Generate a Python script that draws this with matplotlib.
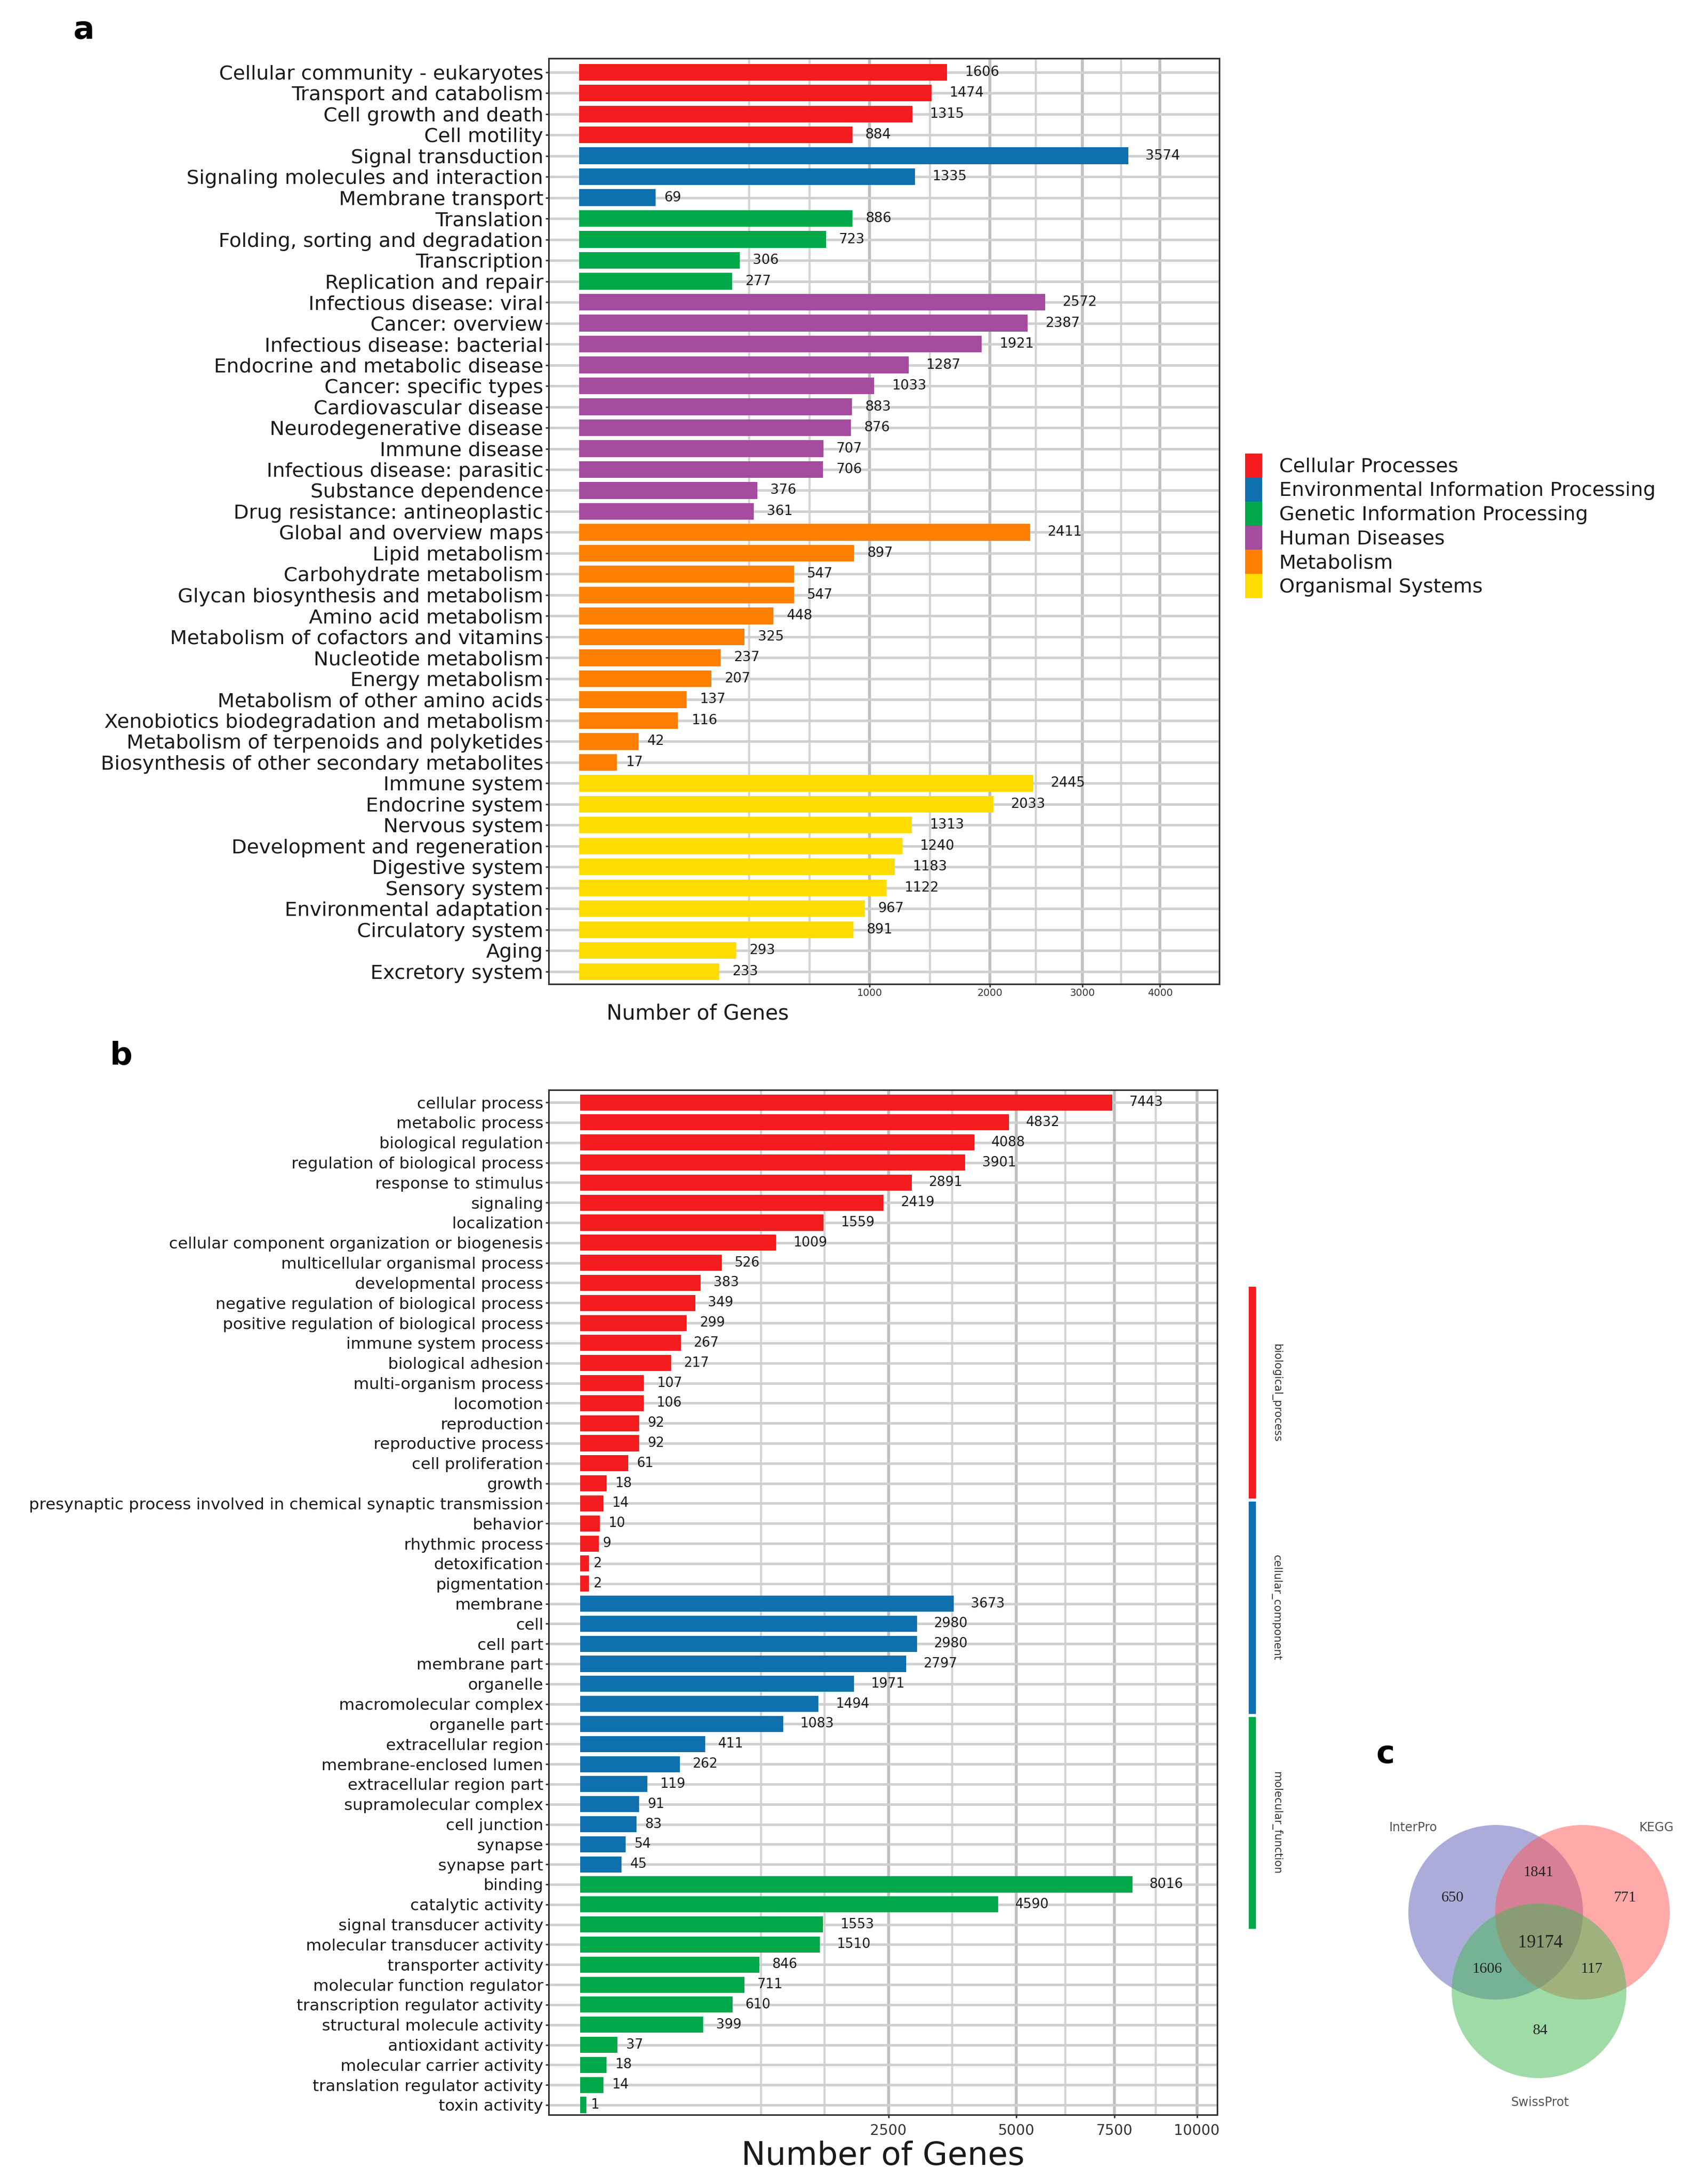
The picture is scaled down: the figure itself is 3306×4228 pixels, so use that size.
import numpy as np
import matplotlib
matplotlib.use("Agg")
import matplotlib.pyplot as plt
from matplotlib.patches import Circle, Patch

plt.rcParams['font.family'] = ['DejaVu Sans']

# ---------------- data: panel a (KEGG classes) ----------------
kegg_groups = ["Cellular Processes", "Environmental Information Processing",
               "Genetic Information Processing", "Human Diseases",
               "Metabolism", "Organismal Systems"]
kegg_colors = ["#F41C1E", "#0E70AE", "#00A84A", "#A54BA0", "#FF7F00", "#FFDC00"]
kegg_sizes = [4, 3, 4, 11, 12, 10]
kegg_terms = [
    "Cellular community - eukaryotes", "Transport and catabolism",
    "Cell growth and death", "Cell motility",
    "Signal transduction", "Signaling molecules and interaction", "Membrane transport",
    "Translation", "Folding, sorting and degradation", "Transcription",
    "Replication and repair",
    "Infectious disease: viral", "Cancer: overview", "Infectious disease: bacterial",
    "Endocrine and metabolic disease", "Cancer: specific types",
    "Cardiovascular disease", "Neurodegenerative disease", "Immune disease",
    "Infectious disease: parasitic", "Substance dependence",
    "Drug resistance: antineoplastic",
    "Global and overview maps", "Lipid metabolism", "Carbohydrate metabolism",
    "Glycan biosynthesis and metabolism", "Amino acid metabolism",
    "Metabolism of cofactors and vitamins", "Nucleotide metabolism",
    "Energy metabolism", "Metabolism of other amino acids",
    "Xenobiotics biodegradation and metabolism",
    "Metabolism of terpenoids and polyketides",
    "Biosynthesis of other secondary metabolites",
    "Immune system", "Endocrine system", "Nervous system",
    "Development and regeneration", "Digestive system", "Sensory system",
    "Environmental adaptation", "Circulatory system", "Aging", "Excretory system"]
kegg_counts = [1606, 1474, 1315, 884,
               3574, 1335, 69,
               886, 723, 306, 277,
               2572, 2387, 1921, 1287, 1033, 883, 876, 707, 706, 376, 361,
               2411, 897, 547, 547, 448, 325, 237, 207, 137, 116, 42, 17,
               2445, 2033, 1313, 1240, 1183, 1122, 967, 891, 293, 233]
kegg_ticks = [1000, 2000, 3000, 4000]

# ---------------- data: panel b (GO terms) ----------------
go_groups = ["biological_process", "cellular_component", "molecular_function"]
go_colors = ["#F41C1E", "#0E70AE", "#00A84A"]
go_sizes = [25, 14, 12]
go_terms = [
    "cellular process", "metabolic process", "biological regulation",
    "regulation of biological process", "response to stimulus", "signaling",
    "localization", "cellular component organization or biogenesis",
    "multicellular organismal process", "developmental process",
    "negative regulation of biological process",
    "positive regulation of biological process", "immune system process",
    "biological adhesion", "multi-organism process", "locomotion",
    "reproduction", "reproductive process", "cell proliferation", "growth",
    "presynaptic process involved in chemical synaptic transmission",
    "behavior", "rhythmic process", "detoxification", "pigmentation",
    "membrane", "cell", "cell part", "membrane part", "organelle",
    "macromolecular complex", "organelle part", "extracellular region",
    "membrane-enclosed lumen", "extracellular region part",
    "supramolecular complex", "cell junction", "synapse", "synapse part",
    "binding", "catalytic activity", "signal transducer activity",
    "molecular transducer activity", "transporter activity",
    "molecular function regulator", "transcription regulator activity",
    "structural molecule activity", "antioxidant activity",
    "molecular carrier activity", "translation regulator activity",
    "toxin activity"]
go_counts = [7443, 4832, 4088, 3901, 2891, 2419, 1559, 1009, 526, 383, 349, 299,
             267, 217, 107, 106, 92, 92, 61, 18, 14, 10, 9, 2, 2,
             3673, 2980, 2980, 2797, 1971, 1494, 1083, 411, 262, 119, 91, 83, 54, 45,
             8016, 4590, 1553, 1510, 846, 711, 610, 399, 37, 18, 14, 1]
go_ticks = [2500, 5000, 7500, 10000]

# ---------------- data: panel c (Venn) ----------------
venn_sets = ["InterPro", "KEGG", "SwissProt"]
venn_set_colors = ["#5B5BB7", "#FF5555", "#41B951"]
venn_only = [650, 771, 84]            # InterPro, KEGG, SwissProt only
venn_pairs = [1841, 1606, 117]        # I&K, I&S, K&S
venn_all = 19174

W, H = 3306, 4228
fig = plt.figure(figsize=(W / 100, H / 100), dpi=100)


def px_axes(l, t, r, b):
    return fig.add_axes([l / W, 1 - b / H, (r - l) / W, (b - t) / H])


def sqrt_fwd(x):
    x = np.asarray(x, dtype=float)
    return np.sign(x) * np.sqrt(np.abs(x))


def sqrt_inv(x):
    x = np.asarray(x, dtype=float)
    return np.sign(x) * x ** 2


def minor_breaks(majors):
    # ggplot-like minor breaks, computed in sqrt space
    s = np.sqrt(majors)
    s = np.concatenate([[s[0] - (s[1] - s[0])], s])
    mids = (s[:-1] + s[1:]) / 2
    return np.concatenate([[s[0]], mids]) ** 2


def bar_panel(ax, terms, counts, colors, majors, xlim_s, pads, lab_fs, val_fs, tick_fs):
    ax.set_xscale('function', functions=(sqrt_fwd, sqrt_inv))
    y = np.arange(len(terms))
    ax.barh(y, counts, height=0.8, color=colors, zorder=2)
    for i, v in enumerate(counts):
        s = str(v)
        ax.annotate(s, (v, i), xytext=(0.5 * len(s) * 0.636 * val_fs, 0),
                    textcoords='offset points', ha='left', va='center',
                    fontsize=val_fs, color='#1a1a1a', zorder=3)
    ax.set_yticks(y)
    ax.set_yticklabels(terms, fontsize=lab_fs, color='#1a1a1a')
    ax.set_xticks(majors)
    ax.set_xticklabels([str(m) for m in majors], fontsize=tick_fs, color='#333333')
    ax.set_xticks(minor_breaks(majors), minor=True)
    ax.set_xlim(sqrt_inv(xlim_s[0]), sqrt_inv(xlim_s[1]))
    ax.set_ylim(len(terms) - 1 + pads[1], -pads[0])
    ax.set_axisbelow(True)
    ax.grid(True, axis='x', which='major', color='#BEBEBE', lw=4)
    ax.grid(True, axis='x', which='minor', color='#D4D4D4', lw=3)
    ax.grid(True, axis='y', which='major', color='#D0D0D0', lw=3.5)
    ax.tick_params(axis='x', which='minor', length=0)
    ax.tick_params(axis='both', which='major', length=4.5, width=2,
                   color='#333333', pad=3)
    for sp in ax.spines.values():
        sp.set_color('#333333')
        sp.set_linewidth(2.2)


# ---------------- panel a ----------------
ax_a = px_axes(1062, 113, 2360, 1905)
a_cols = np.repeat(kegg_colors, kegg_sizes)
bar_panel(ax_a, kegg_terms, kegg_counts, a_cols, kegg_ticks, (-3.32, 69.7),
          (0.66, 0.6), 27.7, 19, 14)
ax_a.tick_params(axis='x', pad=1)
fig.text(1350 / W, 1 - 1963 / H, "Number of Genes", fontsize=29,
         ha='center', va='center', color='#1a1a1a')

handles = [Patch(facecolor=c, edgecolor='none', lw=0) for c in kegg_colors]
fig.legend(handles, kegg_groups, loc='upper left',
           bbox_to_anchor=(2410 / W, 1 - 878 / H), frameon=False,
           fontsize=27.5, handleheight=1.5, handlelength=0.87,
           handletextpad=0.85, labelspacing=0, borderpad=0, borderaxespad=0,
           labelcolor='#1a1a1a')

# ---------------- panel b ----------------
ax_b = px_axes(1062, 2110, 2356, 4094)
b_cols = np.repeat(go_colors, go_sizes)
bar_panel(ax_b, go_terms, go_counts, b_cols, go_ticks, (-5.1, 103.3),
          (0.62, 0.49), 22.5, 18.5, 20)
ax_b.tick_params(axis='x', pad=8)
fig.text(1709 / W, 1 - 4174 / H, "Number of Genes", fontsize=45,
         ha='center', va='center', color='#1a1a1a')

# side strip for GO categories
ax_s = px_axes(2417, 2488, 2431, 3737)
n_g = len(go_groups)
ax_s.barh(np.arange(n_g), [1] * n_g, height=0.985, color=go_colors)
ax_s.set_ylim(n_g - 0.5, -0.5)
ax_s.set_xlim(0, 1)
ax_s.axis('off')
for i, g in enumerate(go_groups):
    ax_s.text(3.8, i, g, rotation=-90, ha='center', va='center',
              fontsize=15, color='#333333', clip_on=False)

# ---------------- panel c: Venn ----------------
ax_c = px_axes(2600, 3300, 3306, 4228)
ax_c.set_xlim(2600, 3306)
ax_c.set_ylim(4228, 3300)
ax_c.axis('off')
centers = [(2895, 3702), (3063, 3702), (2979, 3854)]
for (cx, cy), col in zip(centers, venn_set_colors):
    ax_c.add_patch(Circle((cx, cy), 169, facecolor=col, alpha=0.5, lw=0))
name_pos = [(2735, 3538), (3206, 3538), (2981, 4070)]
for (x, y), name in zip(name_pos, venn_sets):
    ax_c.text(x, y, name, fontsize=17, ha='center', va='center', color='#555555')
only_pos = [(2812, 3674), (3145, 3674), (2981, 3931)]
for (x, y), v in zip(only_pos, venn_only):
    ax_c.text(x, y, str(v), fontsize=21, ha='center', va='center',
              family='Liberation Serif', color='#222222')
pair_pos = [(2978, 3625), (2878, 3812), (3081, 3812)]
for (x, y), v in zip(pair_pos, venn_pairs):
    ax_c.text(x, y, str(v), fontsize=21, ha='center', va='center',
              family='Liberation Serif', color='#222222')
ax_c.text(2981, 3761, str(venn_all), fontsize=25, ha='center', va='center',
          family='Liberation Serif', color='#222222')

# ---------------- panel letters ----------------
for (x, y), lab in zip([(162, 59), (235, 2044), (2681, 3397)], ["a", "b", "c"]):
    fig.text(x / W, 1 - y / H, lab, fontsize=44, fontweight='bold',
             ha='center', va='center')

fig.savefig("out.png", dpi=100)
